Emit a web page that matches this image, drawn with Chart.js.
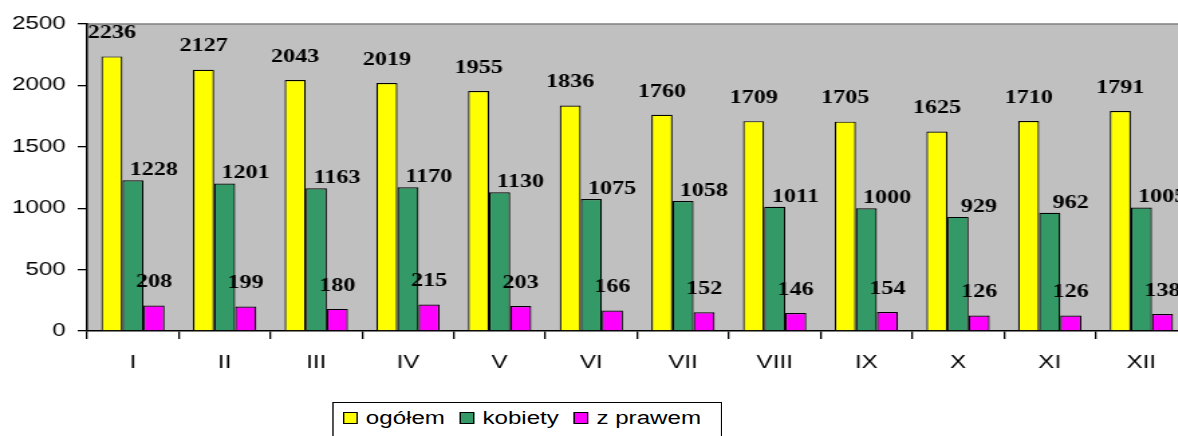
<!DOCTYPE html>
<html>
<head>
<meta charset="utf-8">
<script src="https://cdn.jsdelivr.net/npm/chart.js@4"></script>
<style>
  html, body { margin: 0; padding: 0; background: #fff; overflow: hidden; width: 1178px; height: 436px; }
  /* obraz w oryginale jest rozciągnięty poziomo */
  #wrap { position: relative; width: 890px; height: 436px; transform: scaleX(1.34); transform-origin: 0 0; }
  #legend {
    position: absolute; left: 248px; top: 402px; width: 291px; height: 40px;
    border: 1px solid #000; box-sizing: border-box; background: #fff;
    font-family: "Liberation Sans", Arial, sans-serif; font-size: 18px; line-height: 20px; color: #000;
    display: flex; align-items: flex-start; padding: 5px 0 0 7px; white-space: nowrap;
  }
  #legend .item { display: flex; align-items: center; margin-right: 11px; flex: none; }
  #legend .sq { width: 9px; height: 10px; border: 1px solid #000; margin-right: 6px; }
</style>
</head>
<body>
<div id="wrap">
  <canvas id="chart" width="890" height="436"></canvas>
  <div id="legend"></div>
</div>
<script>
// Dane
const months = ['I', 'II', 'III', 'IV', 'V', 'VI', 'VII', 'VIII', 'IX', 'X', 'XI', 'XII'];
const ogolem = [2236, 2127, 2043, 2019, 1955, 1836, 1760, 1709, 1705, 1625, 1710, 1791];
const kobiety = [1228, 1201, 1163, 1170, 1130, 1075, 1058, 1011, 1000, 929, 962, 1005];
const zPrawem = [208, 199, 180, 215, 203, 166, 152, 146, 154, 126, 126, 138];
const seriesNames = ['ogółem', 'kobiety', 'z prawem'];
const seriesColors = ['#FFFF00', '#339966', '#FF00FF'];

// przesunięcia etykiet (Excel przesuwa etykiety środkowej serii w prawo)
const labelShift = [[0, 23], [15.5, 10], [0, 23]];

// tło obszaru wykresu + górna krawędź
const plotBg = {
  id: 'plotBg',
  beforeDraw(chart) {
    const { ctx, chartArea: a } = chart;
    ctx.save();
    ctx.fillStyle = '#C0C0C0';
    ctx.fillRect(a.left, a.top, a.right - a.left, a.bottom - a.top);
    ctx.strokeStyle = '#808080';
    ctx.lineWidth = 1.5;
    ctx.beginPath();
    ctx.moveTo(a.left, a.top);
    ctx.lineTo(a.right, a.top);
    ctx.stroke();
    ctx.restore();
  }
};

// etykiety wartości nad słupkami
const valueLabels = {
  id: 'valueLabels',
  afterDatasetsDraw(chart) {
    const ctx = chart.ctx;
    ctx.save();
    ctx.font = 'bold 18px "Liberation Serif", "Times New Roman", serif';
    ctx.fillStyle = '#000';
    ctx.textAlign = 'center';
    ctx.textBaseline = 'middle';
    chart.data.datasets.forEach((ds, i) => {
      const meta = chart.getDatasetMeta(i);
      meta.data.forEach((bar, j) => {
        ctx.fillText(String(ds.data[j]), bar.x + labelShift[i][0], bar.y - labelShift[i][1]);
      });
    });
    ctx.restore();
  }
};

new Chart(document.getElementById('chart'), {
  type: 'bar',
  data: {
    labels: months,
    datasets: [ogolem, kobiety, zPrawem].map((d, i) => ({
      label: seriesNames[i],
      data: d,
      backgroundColor: seriesColors[i],
      borderColor: '#000',
      borderWidth: 1.2,
      borderSkipped: 'bottom',
      categoryPercentage: 0.69,
      barPercentage: 1.0
    }))
  },
  options: {
    responsive: false,
    animation: false,
    layout: { padding: { top: 24, right: 4, left: 0, bottom: 0 } },
    plugins: {
      legend: { display: false },
      tooltip: { enabled: false }
    },
    scales: {
      x: {
        grid: { offset: true, drawOnChartArea: false, drawTicks: true, tickLength: 8, color: '#000', lineWidth: 1.3 },
        border: { color: '#000', width: 1.5 },
        ticks: {
          color: '#000',
          padding: 13,
          font: { family: '"Liberation Sans", Arial, sans-serif', size: 18 }
        },
        afterFit(scale) { scale.height = 105; }
      },
      y: {
        min: 0,
        max: 2500,
        grid: { drawOnChartArea: false, drawTicks: true, tickLength: 7, color: '#000', lineWidth: 1.3 },
        border: { color: '#000', width: 1.5 },
        ticks: {
          stepSize: 500,
          color: '#000',
          padding: 9,
          font: { family: '"Liberation Sans", Arial, sans-serif', size: 18 },
          callback: (v) => String(v)
        },
        afterFit(scale) { scale.width = 65; }
      }
    }
  },
  plugins: [plotBg, valueLabels]
});

// legenda w ramce pod wykresem
const legendEl = document.getElementById('legend');
seriesNames.forEach((name, i) => {
  const item = document.createElement('div');
  item.className = 'item';
  const sq = document.createElement('span');
  sq.className = 'sq';
  sq.style.background = seriesColors[i];
  const txt = document.createElement('span');
  txt.textContent = name;
  item.appendChild(sq);
  item.appendChild(txt);
  legendEl.appendChild(item);
});
</script>
</body>
</html>
